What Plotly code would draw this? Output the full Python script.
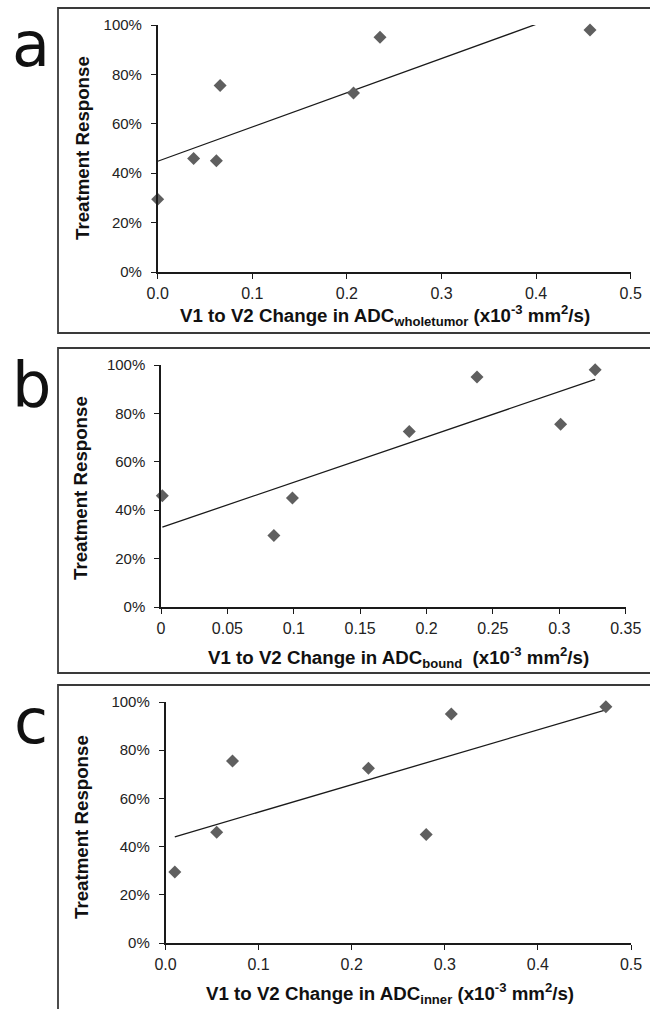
import numpy as np
import plotly.graph_objects as go

# ---- data ----
response = [0.295, 0.46, 0.45, 0.755, 0.725, 0.95, 0.98]   # treatment response per patient
adc_wholetumor = [0.000, 0.038, 0.062, 0.066, 0.207, 0.235, 0.457]
adc_bound = [0.085, 0.001, 0.099, 0.301, 0.187, 0.238, 0.327]
adc_inner = [0.010, 0.055, 0.280, 0.072, 0.218, 0.307, 0.473]
y_ticks = [0, 0.2, 0.4, 0.6, 0.8, 1.0]
panel_letters = ["a", "b", "c"]
x_titles = [
    "<b>V1 to V2 Change in ADC<sub>wholetumor</sub> (x10<sup>-3</sup> mm<sup>2</sup>/s)</b>",
    "<b>V1 to V2 Change in ADC<sub>bound</sub>\u00a0 (x10<sup>-3</sup> mm<sup>2</sup>/s)</b>",
    "<b>V1 to V2 Change in ADC<sub>inner</sub> (x10<sup>-3</sup> mm<sup>2</sup>/s)</b>",
]
x_ranges = [[0, 0.5], [0, 0.35], [0, 0.5]]
x_dticks = [0.1, 0.05, 0.1]
x_formats = [".1f", "", ".1f"]
y_title = "<b>Treatment Response</b>"

W, H = 650, 1009
def px(x):
    return x / W
def py(y):
    return 1 - y / H

# layout geometry in pixels
plot_px = [  # x0, x1, ytop, ybottom
    (157.7, 630.7, 25, 272),
    (161.0, 625.7, 365, 607),
    (165.5, 631.0, 702, 943),
]
box_px = [(58, 8, 700, 333), (58, 348, 700, 673), (58, 685, 700, 1040)]
letter_px = [(31, 44), (31, 384), (31, 721)]
xtitle_px = [(385, 315), (398, 657), (390, 993)]
ytitle_px = [(83, 148), (81, 488), (81, 827)]

fig = go.Figure()
xs_all = [adc_wholetumor, adc_bound, adc_inner]
shapes, annotations = [], []
for i, xs in enumerate(xs_all):
    xa = "x" if i == 0 else f"x{i+1}"
    ya = "y" if i == 0 else f"y{i+1}"
    slope, intercept = np.polyfit(xs, response, 1)
    lx = [min(xs), max(xs)]
    ly = [intercept + slope * v for v in lx]
    fig.add_trace(go.Scatter(x=lx, y=ly, mode="lines", xaxis=xa, yaxis=ya,
                             line=dict(color="#1a1a1a", width=1.3), showlegend=False,
                             hoverinfo="skip"))
    fig.add_trace(go.Scatter(x=xs, y=response, mode="markers", xaxis=xa, yaxis=ya,
                             marker=dict(symbol="diamond", size=10, color="#5f5f5f",
                                         line=dict(width=0)),
                             cliponaxis=False, showlegend=False))
    x0, x1, yt, yb = plot_px[i]
    xkey = "xaxis" if i == 0 else f"xaxis{i+1}"
    ykey = "yaxis" if i == 0 else f"yaxis{i+1}"
    fig.layout[xkey] = dict(domain=[px(x0), px(x1)], range=x_ranges[i], dtick=x_dticks[i], tick0=0,
                            tickformat=x_formats[i], anchor=ya, showgrid=False, zeroline=False,
                            showline=True, linecolor="#1a1a1a", linewidth=1.5,
                            ticks="outside", ticklen=5, tickcolor="#1a1a1a", tickwidth=1.3,
                            tickfont=dict(family="Liberation Sans, Arial", size=16, color="#222"),
                            ticklabelstandoff=1, automargin=False)
    fig.layout[ykey] = dict(domain=[py(yb), py(yt)], range=[0, 1], tickvals=y_ticks,
                            tickformat=".0%", anchor=xa, showgrid=False, zeroline=False,
                            showline=True, linecolor="#1a1a1a", linewidth=1.5,
                            ticks="outside", ticklen=5, tickcolor="#1a1a1a", tickwidth=1.3,
                            tickfont=dict(family="Liberation Sans, Arial", size=15, color="#222"),
                            ticklabelstandoff=6, automargin=False)
    bx0, by0, bx1, by1 = box_px[i]
    shapes.append(dict(type="rect", xref="paper", yref="paper", x0=px(bx0), x1=px(bx1),
                       y0=py(by1), y1=py(by0), line=dict(color="#3a3a3a", width=1.8)))
    lx_, ly_ = letter_px[i]
    annotations.append(dict(text=panel_letters[i], xref="paper", yref="paper", x=px(lx_), y=py(ly_),
                            showarrow=False, xanchor="center", yanchor="middle",
                            font=dict(family="DejaVu Sans", size=62, color="#111")))
    tx, ty = xtitle_px[i]
    annotations.append(dict(text=x_titles[i], xref="paper", yref="paper", x=px(tx), y=py(ty),
                            showarrow=False, xanchor="center", yanchor="middle",
                            font=dict(family="Liberation Sans, Arial", size=18.7, color="#111")))
    yx, yy = ytitle_px[i]
    annotations.append(dict(text=y_title, xref="paper", yref="paper", x=px(yx), y=py(yy),
                            showarrow=False, xanchor="center", yanchor="middle", textangle=-90,
                            font=dict(family="Liberation Sans, Arial", size=18.7, color="#111")))

fig.update_layout(width=W, height=H, autosize=False,
                  margin=dict(l=0, r=0, t=0, b=0, pad=0, autoexpand=False),
                  paper_bgcolor="white", plot_bgcolor="white",
                  shapes=shapes, annotations=annotations, showlegend=False)
fig.write_html("out.html", config={"displayModeBar": False, "responsive": False},
               post_script="document.body.style.margin='0';document.body.style.overflow='hidden';")
